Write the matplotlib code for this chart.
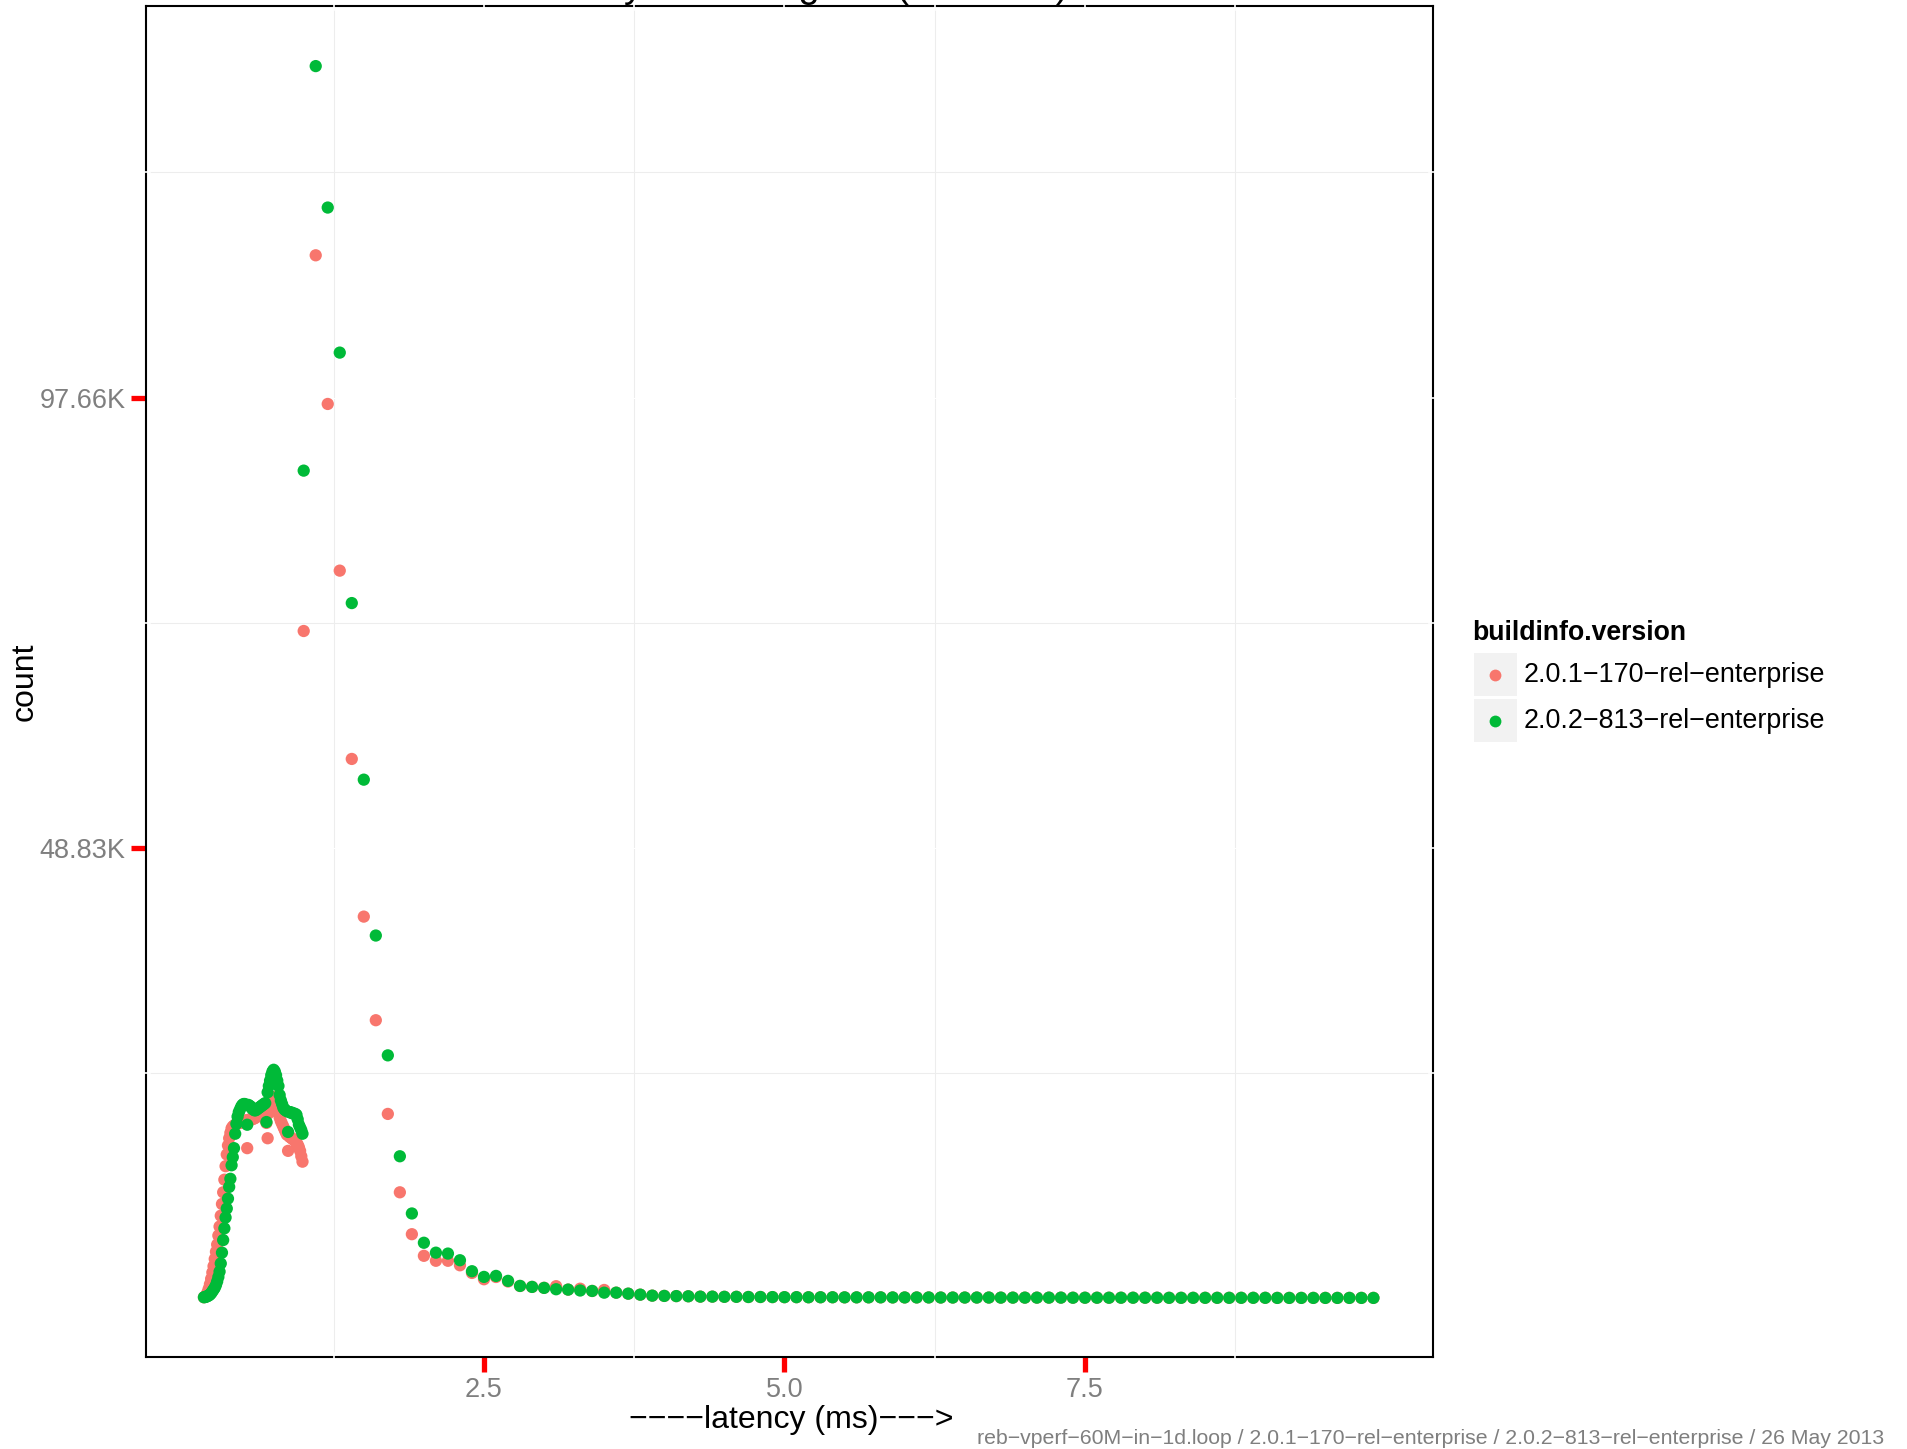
import matplotlib
matplotlib.use("Agg")
import matplotlib.pyplot as plt
from matplotlib.patches import Rectangle
from matplotlib.lines import Line2D
from matplotlib.transforms import blended_transform_factory

plt.rcParams['font.family'] = ['Liberation Sans', 'DejaVu Sans']

# ---------------- data ----------------
versions = ["2.0.1\u2212170\u2212rel\u2212enterprise", "2.0.2\u2212813\u2212rel\u2212enterprise"]
colors = ["#F8766D", "#00BA38"]

latency_fine = [0.17, 0.18, 0.19, 0.20, 0.21, 0.22, 0.23, 0.24, 0.25, 0.26,
                0.27, 0.28, 0.29, 0.30, 0.31, 0.32, 0.33, 0.34, 0.35, 0.36,
                0.37, 0.38, 0.39, 0.40, 0.41, 0.42, 0.43, 0.44, 0.45, 0.46,
                0.47, 0.48, 0.49, 0.50, 0.51, 0.52, 0.53, 0.54, 0.55, 0.56,
                0.57, 0.58, 0.59, 0.60, 0.61, 0.62, 0.63, 0.64, 0.65, 0.66,
                0.67, 0.68, 0.69, 0.70, 0.71, 0.72, 0.73, 0.74, 0.75, 0.76,
                0.77, 0.78, 0.79, 0.80, 0.81, 0.82, 0.83, 0.84, 0.85, 0.86,
                0.87, 0.88, 0.89, 0.90, 0.91, 0.92, 0.93, 0.94, 0.95, 0.96,
                0.97, 0.98, 0.99]
latency_coarse = [1.0, 1.1, 1.2, 1.3, 1.4, 1.5, 1.6, 1.7, 1.8, 1.9,
                  2.0, 2.1, 2.2, 2.3, 2.4, 2.5, 2.6, 2.7, 2.8, 2.9,
                  3.0, 3.1, 3.2, 3.3, 3.4, 3.5, 3.6, 3.7, 3.8, 3.9,
                  4.0, 4.1, 4.2, 4.3, 4.4, 4.5, 4.6, 4.7, 4.8, 4.9,
                  5.0, 5.1, 5.2, 5.3, 5.4, 5.5, 5.6, 5.7, 5.8, 5.9,
                  6.0, 6.1, 6.2, 6.3, 6.4, 6.5, 6.6, 6.7, 6.8, 6.9,
                  7.0, 7.1, 7.2, 7.3, 7.4, 7.5, 7.6, 7.7, 7.8, 7.9,
                  8.0, 8.1, 8.2, 8.3, 8.4, 8.5, 8.6, 8.7, 8.8, 8.9,
                  9.0, 9.1, 9.2, 9.3, 9.4, 9.5, 9.6, 9.7, 9.8, 9.9]

# counts in thousands
count_201_fine = [0.15, 0.2, 0.4, 0.7, 1.1, 1.6, 2.2, 2.9, 3.6, 4.4,
                  5.2, 6.0, 7.0, 8.0, 9.2, 10.5, 11.8, 13.2, 14.7, 16.0,
                  17.0, 17.8, 18.4, 18.9, 19.1, 19.2, 19.3, 19.4, 19.4, 19.5,
                  19.5, 19.6, 19.6, 19.7, 19.7, 19.8, 16.7, 19.8, 19.9, 19.9,
                  19.9, 20.0, 20.0, 20.1, 20.2, 20.3, 20.4, 20.5, 20.5, 20.4,
                  20.2, 19.9, 19.5, 17.8, 20.6, 21.3, 21.9, 22.3, 22.4, 22.2,
                  21.8, 21.2, 20.6, 20.1, 19.7, 19.4, 19.1, 18.8, 18.5, 18.2,
                  16.4, 18.0, 17.9, 17.8, 17.7, 17.6, 17.5, 17.3, 17.1, 16.8,
                  16.4, 15.8, 15.2]
count_202_fine = [0.15, 0.18, 0.22, 0.28, 0.35, 0.45, 0.6, 0.8, 1.0, 1.2,
                  1.5, 1.9, 2.4, 3.0, 3.9, 5.1, 6.5, 7.8, 9.0, 10.0,
                  11.1, 12.4, 13.3, 14.8, 15.7, 16.7, 18.3, 19.4, 20.2, 20.7,
                  21.0, 21.3, 21.5, 21.6, 21.6, 21.5, 19.3, 21.5, 21.4, 21.3,
                  21.1, 21.0, 20.9, 20.9, 21.0, 21.1, 21.2, 21.3, 21.4, 21.5,
                  21.6, 21.7, 19.6, 22.9, 23.6, 24.2, 24.8, 25.2, 25.4, 25.2,
                  24.8, 24.2, 23.6, 22.6, 22.0, 21.6, 21.2, 21.0, 20.9, 20.8,
                  18.5, 20.7, 20.7, 20.6, 20.6, 20.5, 20.5, 20.4, 19.9, 19.3,
                  19.0, 18.7, 18.3]
count_201_coarse = [74.1, 115.8, 99.3, 80.8, 59.9, 42.4, 30.9, 20.5, 11.8, 7.15,
                    4.75, 4.2, 4.2, 3.7, 2.85, 2.15, 2.4, 1.9, 1.4, 1.3,
                    1.2, 1.38, 1.0, 1.1, 0.85, 0.96, 0.66, 0.55, 0.44, 0.33,
                    0.30, 0.28, 0.26, 0.22, 0.22, 0.20, 0.20, 0.18, 0.18, 0.17,
                    0.16, 0.16, 0.15, 0.15, 0.15, 0.14, 0.14, 0.14, 0.14, 0.13,
                    0.13, 0.13, 0.13, 0.12, 0.12, 0.12, 0.12, 0.12, 0.11, 0.11,
                    0.11, 0.11, 0.11, 0.11, 0.10, 0.10, 0.10, 0.10, 0.10, 0.10,
                    0.10, 0.10, 0.09, 0.09, 0.09, 0.09, 0.09, 0.09, 0.09, 0.09,
                    0.09, 0.08, 0.08, 0.08, 0.08, 0.08, 0.08, 0.08, 0.08, 0.08]
count_202_coarse = [91.9, 136.8, 121.1, 105.0, 77.2, 57.6, 40.3, 27.0, 15.8, 9.45,
                    6.2, 5.1, 5.0, 4.26, 3.04, 2.41, 2.52, 1.97, 1.41, 1.30,
                    1.19, 1.04, 1.00, 0.90, 0.85, 0.66, 0.66, 0.55, 0.44, 0.33,
                    0.30, 0.28, 0.26, 0.22, 0.22, 0.20, 0.20, 0.18, 0.18, 0.17,
                    0.16, 0.16, 0.15, 0.15, 0.15, 0.14, 0.14, 0.14, 0.14, 0.13,
                    0.13, 0.13, 0.13, 0.12, 0.12, 0.12, 0.12, 0.12, 0.11, 0.11,
                    0.11, 0.11, 0.11, 0.11, 0.10, 0.10, 0.10, 0.10, 0.10, 0.10,
                    0.10, 0.10, 0.09, 0.09, 0.09, 0.09, 0.09, 0.09, 0.09, 0.09,
                    0.09, 0.08, 0.08, 0.08, 0.08, 0.08, 0.08, 0.08, 0.08, 0.08]

x_ticks = [2.5, 5.0, 7.5]
x_tick_labels = ["2.5", "5.0", "7.5"]
x_minor = [1.25, 3.75, 6.25, 8.75]
y_ticks = [50, 100]
y_tick_labels = ["48.83K", "97.66K"]
y_minor = [25, 75, 125]

title = "latency-set histogram (raw data)"
x_label = "\u2212\u2212\u2212\u2212latency (ms)\u2212\u2212\u2212>"
y_label = "count"
legend_title = "buildinfo.version"
caption = ("reb\u2212vperf\u221260M\u2212in\u22121d.loop / 2.0.1\u2212170\u2212rel\u2212enterprise / "
           "2.0.2\u2212813\u2212rel\u2212enterprise / 26 May 2013")

# ---------------- figure ----------------
W, H = 1908, 1449
fig = plt.figure(figsize=(W / 100, H / 100), dpi=100)
fig.patch.set_facecolor("white")

def fx(px):
    return px / W

def fy(py):
    return 1 - py / H

ax = fig.add_axes([fx(146), fy(1357), (1433.3 - 146) / W, (1357 - 6) / H])
ax.set_xlim(-0.312, 10.398)
ax.set_ylim(-6.48, 143.47)

series = [(count_201_fine, count_201_coarse), (count_202_fine, count_202_coarse)]
for (fine, coarse), col in zip(series, colors):
    ax.scatter(latency_fine + latency_coarse, fine + coarse, s=78, color=col,
               edgecolors="none", zorder=3)

ax.set_xticks(x_ticks)
ax.set_xticklabels(x_tick_labels)
ax.set_yticks(y_ticks)
ax.set_yticklabels(y_tick_labels)
ax.set_xticks(x_minor, minor=True)
ax.set_yticks(y_minor, minor=True)
ax.tick_params(which="major", direction="out", length=10.5, width=3.8, color="#FF0000",
               labelsize=19.5, labelcolor="#7F7F7F", pad=4)
ax.tick_params(which="minor", length=0)
ax.grid(which="minor", color="#EDEDED", lw=0.8)
ax.grid(which="major", color="white", lw=0.8)
ax.set_axisbelow(True)
for sp in ax.spines.values():
    sp.set_color("black")
    sp.set_linewidth(1.5)

# white grid crossings through the panel border
tx = blended_transform_factory(ax.transData, ax.transAxes)
ty = blended_transform_factory(ax.transAxes, ax.transData)
for xv in x_ticks + x_minor:
    ax.plot([xv, xv], [0.997, 1.004], transform=tx, color="white", lw=1.2, clip_on=False, zorder=5)
for xv in x_minor:
    ax.plot([xv, xv], [-0.004, 0.003], transform=tx, color="white", lw=1.2, clip_on=False, zorder=5)
for yv in y_ticks + y_minor:
    ax.plot([0.997, 1.004], [yv, yv], transform=ty, color="white", lw=1.2, clip_on=False, zorder=5)
for yv in y_minor:
    ax.plot([-0.004, 0.003], [yv, yv], transform=ty, color="white", lw=1.2, clip_on=False, zorder=5)

# titles
fig.text(fx(522), fy(-3), title, fontsize=27.5, ha="left", va="baseline")
fig.text(fx(791), fy(1420), x_label, fontsize=23, ha="center", va="center")
fig.text(fx(25), fy(682), y_label, fontsize=23, ha="center", va="center", rotation=90)
fig.text(fx(1884), fy(1444), caption, fontsize=15.3, ha="right", va="baseline", color="#7F7F7F")

# legend
fig.text(fx(1472), fy(640), legend_title, fontsize=19.2, fontweight="bold", ha="left", va="baseline")
for i, (name, col) in enumerate(zip(versions, colors)):
    top = 653 + i * 46
    fig.add_artist(Rectangle((fx(1474), fy(top + 43)), 43 / W, 43 / H, transform=fig.transFigure,
                             facecolor="#F2F2F2", edgecolor="none"))
    fig.add_artist(Line2D([fx(1495.5)], [fy(top + 21.5)], marker="o", markersize=8.5, color=col,
                          markeredgewidth=0, linestyle="none", transform=fig.transFigure))
    fig.text(fx(1524), fy(top + 21.5), name, fontsize=19.4, ha="left", va="center")

fig.savefig("out.png", dpi=100, facecolor="white")
